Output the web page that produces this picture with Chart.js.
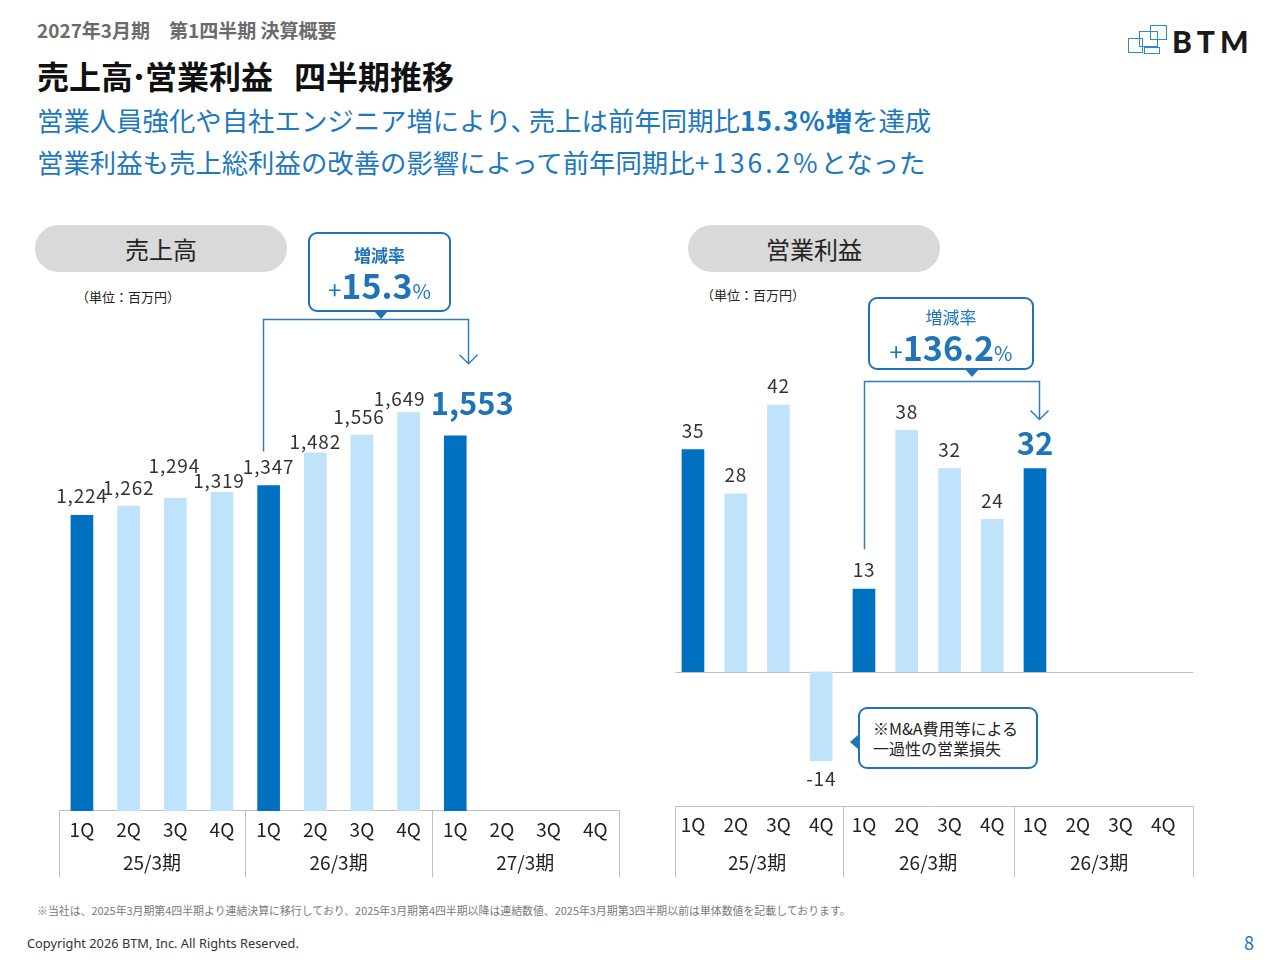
<!DOCTYPE html>
<html lang="ja">
<head>
<meta charset="utf-8">
<script src="https://cdn.jsdelivr.net/npm/chart.js@4.4.1/dist/chart.umd.min.js"></script>
<style>
  html, body { margin:0; padding:0; }
  body { width:1280px; height:960px; position:relative; background:#fff; overflow:hidden;
         font-family:"Noto Sans CJK JP","Noto Sans",sans-serif; color:#222; }
  .abs { position:absolute; white-space:nowrap; }
  .period { left:37px; top:17px; font-size:19px; line-height:26px; color:#6b6b6b; font-weight:700; }
  .title { left:37px; top:54px; font-size:32px; line-height:42px; font-weight:700; color:#111; }
  .sub { left:37px; font-size:26.4px; line-height:36px; color:#1d78bd; }
  .sub b { font-weight:700; }
  .pill { top:225px; height:47px; width:252px; border-radius:24px; background:#d9d9d9;
          font-size:24px; line-height:47px; text-align:center; color:#222; }
  .unit { font-size:13px; line-height:16px; color:#222; }
  .callout { border:2px solid #1f74b8; border-radius:9px; background:#fff; color:#1f74b8; text-align:center; box-sizing:border-box; }
  .callout .ptr { position:absolute; bottom:-9px; width:0; height:0; border-left:7px solid transparent;
                  border-right:7px solid transparent; border-top:8px solid #1f74b8; transform:translateX(-50%); }
  .callout .l1 { font-size:17px; line-height:24px; }
  .callout .l2 { line-height:36px; }
  .callout .pl { font-size:24px; }
  .callout .num { font-size:34px; font-weight:700; }
  .callout .pc { font-size:20px; }
  .note { left:858px; top:707px; width:180px; height:62px; border:2px solid #1f74b8; border-radius:9px;
          box-sizing:border-box; padding:9px 0 0 13px; font-size:16px; line-height:20px; color:#222; background:#fff; }
  .note .lptr { position:absolute; left:-10px; top:26px; width:0; height:0; border-top:7px solid transparent;
                border-bottom:7px solid transparent; border-right:8px solid #1f74b8; }
  .foot { left:37px; top:903px; font-size:10.9px; line-height:15px; color:#7a7a7a; }
  .copy { left:27px; top:935px; font-size:12.8px; line-height:16px; color:#333; font-family:"Noto Sans",sans-serif; }
  .page { left:1244px; top:930px; font-size:18px; line-height:24px; color:#1f74b8; }
  .logo-sq { position:absolute; border:1.6px solid #2e8ad0; box-sizing:border-box; background:transparent; }
  .logo-txt { left:1172px; top:22px; font-size:30px; line-height:38px; font-weight:900; letter-spacing:5px;
              color:#1a1a1a; font-family:"Lato","Noto Sans",sans-serif; }
  canvas { position:absolute; }
</style>
</head>
<body>
<div class="abs period">2027年3月期　第1四半期 決算概要</div>
<div class="abs title">売上高<span style="margin:0 -2px;">･</span>営業利益<span style="display:inline-block;width:21px;"></span>四半期推移</div>
<div class="abs sub" style="top:102px;">営業人員強化や自社エンジニア増により<span style="margin-right:-8px;">、</span>売上は前年同期比<b style="letter-spacing:1px;">15.3%</b><b>増</b>を達成</div>
<div class="abs sub" style="top:144px;">営業利益も売上総利益の改善の影響によって前年同期比<span style="letter-spacing:3px;">+136.2%</span>となった</div>

<div class="logo-sq" style="left:1128px;top:38px;width:15px;height:15px;"></div>
<div class="logo-sq" style="left:1139px;top:31px;width:19px;height:16px;"></div>
<div class="logo-sq" style="left:1150px;top:25px;width:17px;height:15px;"></div>
<div class="logo-sq" style="left:1144px;top:47px;width:16px;height:7px;"></div>
<div class="abs logo-txt">BTM</div>

<div class="abs pill" style="left:35px;">売上高</div>
<div class="abs pill" style="left:688px;">営業利益</div>
<div class="abs unit" style="left:76px;top:289px;">（単位：百万円）</div>
<div class="abs unit" style="left:701px;top:287px;">（単位：百万円）</div>

<canvas id="salesChart" width="600" height="600" style="left:40px;top:290px;"></canvas>
<canvas id="profitChart" width="560" height="620" style="left:655px;top:280px;"></canvas>

<div class="abs callout" style="left:308px;top:232px;width:143px;height:80px;padding-top:9px;">
  <div class="l1" style="font-weight:700;">増減率</div>
  <div class="l2"><span class="pl">+</span><span class="num">15.3</span><span class="pc">%</span></div>
  <div class="ptr" style="left:71px;"></div>
</div>
<div class="abs callout" style="left:868px;top:297px;width:166px;height:73px;padding-top:6px;">
  <div class="l1">増減率</div>
  <div class="l2"><span class="pl">+</span><span class="num">136.2</span><span class="pc">%</span></div>
  <div class="ptr" style="left:102px;"></div>
</div>
<div class="abs note">※M&amp;A費用等による<br>一過性の営業損失<div class="lptr"></div></div>

<div class="abs foot">※当社は、2025年3月期第4四半期より連結決算に移行しており、2025年3月期第4四半期以降は連結数値、2025年3月期第3四半期以前は単体数値を記載しております。</div>
<div class="abs copy">Copyright 2026 BTM, Inc. All Rights Reserved.</div>
<div class="abs page">8</div>

<script>
// ---- data ----
const quarters = ['1Q','2Q','3Q','4Q','1Q','2Q','3Q','4Q','1Q','2Q','3Q','4Q'];
const salesYears = ['25/3期','26/3期','27/3期'];
const profitYears = ['25/3期','26/3期','26/3期'];
const salesValues = [1224, 1262, 1294, 1319, 1347, 1482, 1556, 1649, 1553, null, null, null];
const profitValues = [35, 28, 42, -14, 13, 38, 32, 24, 32, null, null, null];

// ---- styles ----
const DARK = '#0070c0';
const LIGHT = '#bfe3fa';
const ACCENT = '#1f74b8';
const LINE = '#2f7dc0';
const FONT = '"Noto Sans CJK JP","Noto Sans",sans-serif';

function lastIndex(arr) { let k = -1; arr.forEach((v, i) => { if (v != null) k = i; }); return k; }

const overlay = {
  id: 'overlay',
  beforeDatasetsDraw(chart, args, o) {
    const { ctx, chartArea: ca, scales: { x, x2, y } } = chart;
    const bl = Math.round(ca.left + o.boxL) + 0.5, br = Math.round(ca.right + o.boxR) + 0.5;
    const bt = Math.round(ca.bottom) - 0.5, bb = x2.bottom;
    ctx.save();
    ctx.strokeStyle = '#bfbfbf';
    ctx.lineWidth = 1;
    ctx.beginPath();
    ctx.moveTo(bl, bb); ctx.lineTo(bl, bt); ctx.lineTo(br, bt); ctx.lineTo(br, bb);
    for (const k of [4, 8]) {
      const px = Math.round((x.getPixelForValue(k - 1) + x.getPixelForValue(k)) / 2) + 0.5;
      ctx.moveTo(px, bt); ctx.lineTo(px, bb);
    }
    if (o.zeroLine) {
      const zy = Math.round(y.getPixelForValue(0)) + 0.5;
      ctx.moveTo(bl, zy); ctx.lineTo(br, zy);
    }
    ctx.stroke();
    ctx.restore();
  },
  afterDatasetsDraw(chart, args, o) {
    const { ctx } = chart;
    const values = chart.data.datasets[0].data;
    const meta = chart.getDatasetMeta(0);
    const hi = lastIndex(values);
    ctx.save();
    ctx.textAlign = 'center';
    ctx.textBaseline = 'middle';
    meta.data.forEach((bar, i) => {
      const v = values[i];
      if (v == null) return;
      const txt = v.toLocaleString('en-US');
      if (i === hi) {
        ctx.letterSpacing = '0px';
        ctx.font = '700 31px ' + FONT;
        ctx.fillStyle = ACCENT;
        ctx.fillText(txt, bar.x + o.hlDx, bar.y - o.hlDy);
      } else {
        ctx.letterSpacing = o.labelSpacing;
        ctx.font = '400 19px ' + FONT;
        ctx.fillStyle = '#333';
        const lift = o.labelLift ? o.labelLift[i] : 19;
        const dx = o.labelDx ? o.labelDx[i] : 0;
        ctx.fillText(txt, bar.x + dx, v >= 0 ? bar.y - lift : bar.y + 18);
      }
    });
    ctx.letterSpacing = '0px';
    // bracket from same quarter last year to latest quarter
    const b1 = meta.data[hi - 4], b2 = meta.data[hi];
    const p = o.br;
    const x1 = Math.round(b1.x + p.dx1) + 0.5, x2p = Math.round(b2.x + p.dx2) + 0.5;
    const yTop = p.top + 0.5, tip = b2.y - p.tipDy;
    ctx.strokeStyle = LINE;
    ctx.lineWidth = 1.5;
    ctx.beginPath();
    ctx.moveTo(x1, b1.y - p.dy1);
    ctx.lineTo(x1, yTop);
    ctx.lineTo(x2p, yTop);
    ctx.lineTo(x2p, tip);
    ctx.moveTo(x2p - 9, tip - 9);
    ctx.lineTo(x2p, tip);
    ctx.lineTo(x2p + 9, tip - 9);
    ctx.stroke();
    ctx.restore();
  }
};

function makeChart(id, values, years, yMin, yMax, pad, axisH, ov) {
  return new Chart(document.getElementById(id), {
    type: 'bar',
    data: {
      labels: quarters,
      datasets: [{
        data: values,
        backgroundColor: values.map((v, i) => (i % 4 === 0 ? DARK : LIGHT)),
        barThickness: 22,
        borderWidth: 0
      }]
    },
    options: {
      responsive: false,
      animation: false,
      events: [],
      layout: { padding: pad },
      plugins: { legend: { display: false }, tooltip: { enabled: false }, overlay: ov },
      scales: {
        y: { display: false, min: yMin, max: yMax },
        x: {
          offset: true,
          weight: 0,
          grid: { display: false, drawTicks: false },
          border: { display: false },
          ticks: { autoSkip: false, maxRotation: 0, padding: axisH[2], color: '#222', font: { family: FONT, size: 19 } },
          afterFit: s => { s.height = axisH[0]; }
        },
        x2: {
          type: 'category',
          labels: years,
          position: 'bottom',
          offset: true,
          weight: 1,
          grid: { display: false, drawTicks: false },
          border: { display: false },
          ticks: { autoSkip: false, maxRotation: 0, padding: axisH[3], color: '#222', font: { family: FONT, size: 19 } },
          afterFit: s => { s.height = axisH[1]; }
        }
      }
    },
    plugins: [overlay]
  });
}

makeChart('salesChart', salesValues, salesYears, 0, 2100,
  { left: 18.6, right: 21.4, top: 13.6, bottom: 13 }, [36, 30, 7, 4],
  { boxL: 0, boxR: 0, zeroLine: false, hlDx: 17, hlDy: 33, labelSpacing: '0.8px',
    labelLift: [19, 18, 33, 12, 19, 11, 18, 14],
    labelDx: [0, 0, -1, -3, 0, 0, -3, -9],
    br: { dx1: -6, dy1: 34, top: 29, dx2: 13, tipDy: 72 } });

makeChart('profitChart', profitValues, profitYears, -21.3, 60,
  { left: 16.6, right: 30.4, top: 10.7, bottom: 23 }, [38, 32, 6, 6],
  { boxL: 3, boxR: 8, zeroLine: true, hlDx: 0, hlDy: 25, labelSpacing: '0.8px',
    br: { dx1: 0, dy1: 40, top: 101, dx2: 4, tipDy: 49 } });
</script>
</body>
</html>
